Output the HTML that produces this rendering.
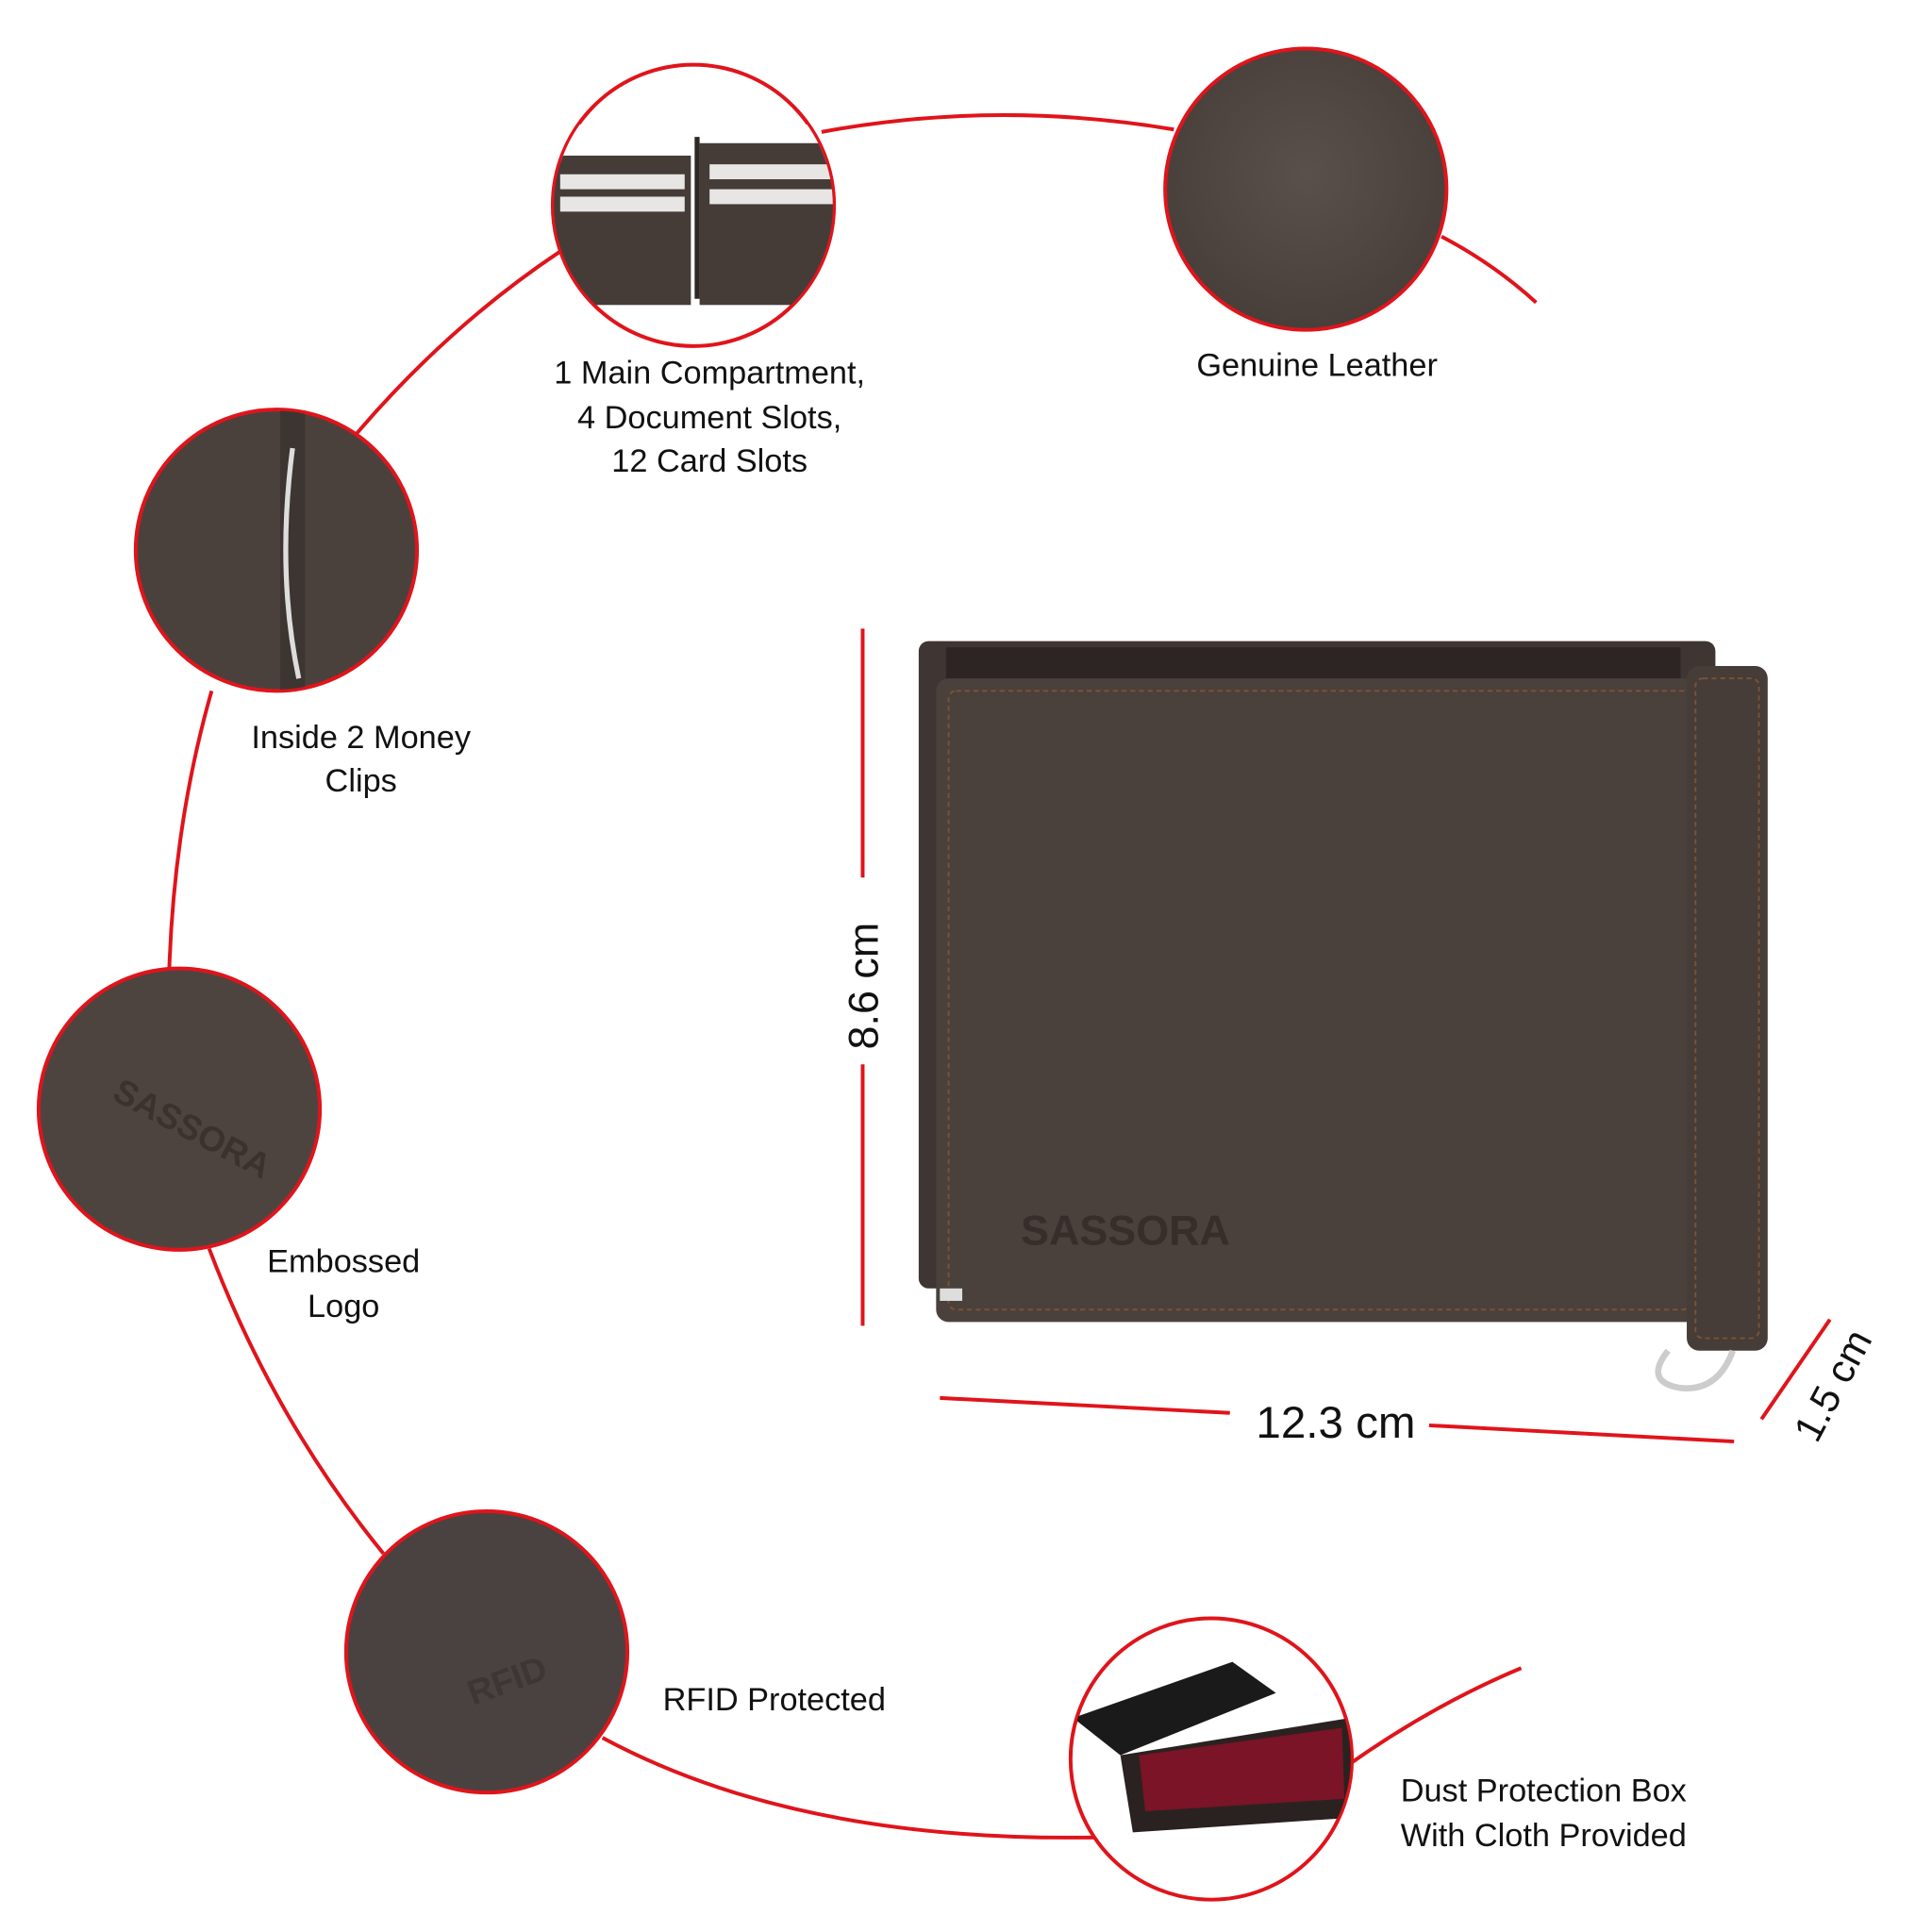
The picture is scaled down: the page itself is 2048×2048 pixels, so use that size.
<!DOCTYPE html>
<html><head><meta charset="utf-8"><style>
html,body{margin:0;padding:0;background:#fff;}
svg{display:block;}
text{font-family:"Liberation Sans",sans-serif;fill:#111;}
</style></head><body>
<svg width="2048" height="2048" viewBox="0 0 1552 1552" xmlns="http://www.w3.org/2000/svg">
<defs>
<radialGradient id="lea" cx="50%" cy="45%" r="60%"><stop offset="0" stop-color="#5a504b"/><stop offset="1" stop-color="#463d39"/></radialGradient>
<clipPath id="c1"><circle cx="557" cy="165" r="112"/></clipPath>
<clipPath id="c3"><circle cx="222" cy="442" r="112"/></clipPath>
<clipPath id="c6"><circle cx="973" cy="1413" r="112"/></clipPath>
</defs>
<g fill="none" stroke="#e0141b" stroke-width="3">
<path d="M660 106 Q800 80 943 104"/>
<path d="M1158 190 Q1200 212 1234 243"/>
<path d="M450 202 Q360 262 285 350"/>
<path d="M170 555 Q140 660 136 778"/>
<path d="M168 1003 Q220 1140 308 1248"/>
<path d="M484 1396 Q640 1480 880 1476"/>
<path d="M1080 1420 Q1150 1370 1222 1340"/>
<path d="M693 505 V705 M693 855 V1065"/>
<path d="M755 1123 L988 1135 M1148 1145 L1393 1158"/>
<path d="M1415 1140 L1470 1060"/>
</g>
<g stroke="#e0141b" stroke-width="3">
<circle cx="557" cy="165" r="113" fill="#fff"/>
<circle cx="1049" cy="152" r="113" fill="url(#lea)"/>
<circle cx="222" cy="442" r="113" fill="#4a413d"/>
<circle cx="144" cy="891" r="113" fill="#4d4440"/>
<circle cx="391" cy="1327" r="113" fill="#4a4240"/>
<circle cx="973" cy="1413" r="113" fill="#fff"/>
</g>
<g clip-path="url(#c1)">
<rect x="440" y="100" width="240" height="30" fill="#fff"/>
<rect x="445" y="125" width="110" height="120" fill="#453c38"/>
<rect x="562" y="115" width="115" height="130" fill="#453c38"/>
<rect x="450" y="140" width="100" height="12" fill="#e8e6e4"/>
<rect x="450" y="158" width="100" height="12" fill="#e8e6e4"/>
<rect x="570" y="132" width="100" height="12" fill="#e8e6e4"/>
<rect x="570" y="152" width="100" height="12" fill="#e8e6e4"/>
<line x1="560" y1="110" x2="560" y2="240" stroke="#2e2825" stroke-width="4"/>
</g>
<g clip-path="url(#c3)">
<rect x="225" y="330" width="20" height="225" fill="#3d3531"/>
<path d="M235 360 Q222 460 240 545" stroke="#ddd" stroke-width="4" fill="none"/>
</g>
<text x="150" y="915" transform="rotate(28 150 915)" font-size="28" font-weight="bold" text-anchor="middle" style="fill:#3a322f">SASSORA</text>
<text x="380" y="1370" transform="rotate(-20 380 1370)" font-size="28" font-weight="bold" style="fill:#3e3633">RFID</text>
<g clip-path="url(#c6)">
<polygon points="862,1380 990,1335 1025,1360 900,1410" fill="#1a1a1a"/>
<polygon points="900,1410 1085,1380 1088,1460 910,1472" fill="#2a2220"/>
<polygon points="915,1410 1078,1388 1080,1445 920,1455" fill="#7a1426"/>
</g>
<rect x="738" y="515" width="640" height="520" rx="8" fill="#3f3532"/>
<rect x="760" y="520" width="590" height="30" fill="#2c2523"/>
<rect x="752" y="545" width="616" height="517" rx="10" fill="#4a403c"/>
<rect x="762" y="555" width="596" height="497" rx="6" fill="none" stroke="#7a5235" stroke-width="1.5" stroke-dasharray="4 3"/>
<rect x="1355" y="535" width="65" height="550" rx="10" fill="#463c38"/>
<rect x="1362" y="545" width="51" height="530" rx="6" fill="none" stroke="#7a5235" stroke-width="1.5" stroke-dasharray="4 3"/>
<text x="820" y="1000" font-size="34" font-weight="bold" style="fill:#362e2b">SASSORA</text>
<path d="M1340 1085 Q1320 1110 1350 1115 Q1380 1118 1392 1085" stroke="#ccc" stroke-width="5" fill="none"/>
<rect x="755" y="1035" width="18" height="10" fill="#ddd"/>
<g font-size="26" text-anchor="middle">
<text x="570" y="308">1 Main Compartment,</text>
<text x="570" y="344">4 Document Slots,</text>
<text x="570" y="379">12 Card Slots</text>
<text x="1058" y="302">Genuine Leather</text>
<text x="290" y="601">Inside 2 Money</text>
<text x="290" y="636">Clips</text>
<text x="276" y="1022">Embossed</text>
<text x="276" y="1058">Logo</text>
<text x="622" y="1374">RFID Protected</text>
<text x="1240" y="1447">Dust Protection Box</text>
<text x="1240" y="1483">With Cloth Provided</text>
</g>
<text x="1073" y="1155" font-size="36" text-anchor="middle">12.3 cm</text>
<text x="705" y="792" font-size="34" text-anchor="middle" transform="rotate(-90 705 792)">8.6 cm</text>
<text x="1482" y="1118" font-size="32" text-anchor="middle" transform="rotate(-62 1482 1118)">1.5 cm</text>
</svg>
</body></html>
